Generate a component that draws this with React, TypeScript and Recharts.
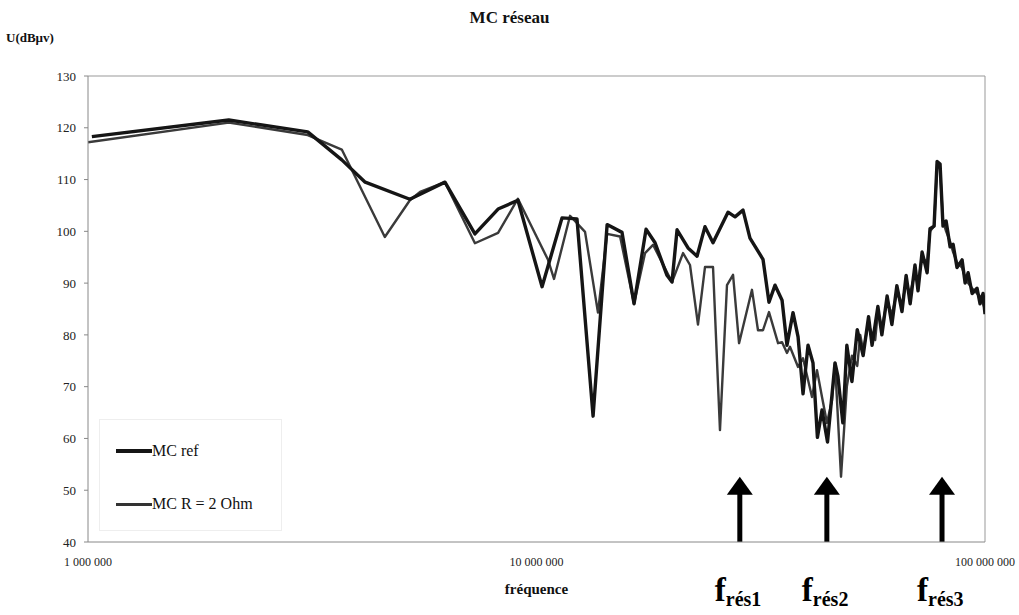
import React from 'react';
import { LineChart, Line, XAxis, YAxis, ReferenceLine, ReferenceDot, Legend } from 'recharts';

// Frequencies in MHz and levels in dBµV
const refFreqMHz = [1.02, 2.06, 3.09, 3.68, 4.15, 5.22, 6.25, 7.29, 8.21, 9.09, 10.29, 11.4, 12.31, 13.37, 14.37, 15.51, 16.5, 17.55, 18.38, 19.54, 20.05, 20.58, 21.77, 22.8, 23.75, 24.75, 26.73, 27.71, 28.87, 29.92, 31.99, 32.99, 34.03, 35.28, 36.18, 37.32, 38.3, 39.29, 40.31, 41.35, 42.3, 43.31, 44.55, 46.3, 47.0, 48.2, 49.2, 50.5, 51.9, 53.5, 55.0, 56.0, 57.7, 58.9, 60.5, 62.0, 63.6, 65.3, 66.7, 68.1, 69.8, 70.9, 72.4, 74.3, 75.4, 77.0, 78.2, 79.4, 80.6, 81.9, 83.6, 84.9, 86.6, 88.9, 90.3, 91.7, 93.6, 96.0, 97.5, 99.0, 100];
const refValues = [118.3, 121.5, 119.2, 113.8, 109.5, 106.2, 109.5, 99.5, 104.3, 106, 89.3, 102.6, 102.4, 64.3, 101.3, 99.8, 86, 100.4, 97.8, 91.5, 90.2, 100.3, 96.8, 95.2, 100.9, 97.8, 103.7, 102.8, 104.1, 98.7, 94.6, 86.3, 89.6, 86.7, 78, 84.3, 79.6, 68.6, 78, 74.6, 60.2, 65.5, 59.3, 74.6, 72, 63, 78, 71, 81, 76, 83.5, 78, 85.5, 80, 87.5, 82, 89.5, 84.5, 91.5, 86, 93.5, 88.5, 96, 92, 100.5, 101, 113.5, 113, 101, 102, 97, 97.5, 93, 94.5, 90, 92, 88, 89, 86, 88, 84];

const r2FreqMHz = [1.0, 2.06, 3.09, 3.68, 4.59, 5.22, 5.5, 6.25, 7.29, 8.21, 9.09, 10.61, 10.94, 11.88, 12.83, 13.71, 14.37, 15.36, 16.5, 17.46, 18.19, 20.05, 21.22, 21.99, 22.91, 23.75, 24.75, 25.65, 26.59, 27.43, 28.29, 30.23, 31.18, 31.99, 32.99, 34.56, 35.28, 36.18, 36.74, 38.3, 39.29, 41.14, 42.21, 43.31, 44.43, 45.59, 46.3, 47.75, 49.2, 50.5, 51.9, 52.7, 53.5, 54.9, 56.9, 57.7, 58.9, 60.5, 62.0, 63.6, 65.3, 66.7, 68.1, 69.8, 70.9, 72.4, 74.3, 75.4, 77.0, 78.2, 79.4, 80.6, 81.9, 83.6, 84.9, 86.6, 88.9, 90.3, 91.7, 93.6, 96.0, 97.5, 99.0, 100];
const r2Values = [117.2, 121, 118.6, 115.8, 98.9, 106, 107.6, 109.5, 97.7, 99.7, 106.3, 94.5, 90.8, 103, 99.9, 84.3, 99.5, 99, 86, 95.8, 97.4, 90.2, 95.8, 93.5, 82, 93.1, 93.1, 61.6, 89.6, 91.6, 78.4, 88.7, 80.9, 80.9, 84.4, 78.4, 78.6, 76.5, 77.7, 73.8, 75.5, 68, 73.2, 68, 63, 67.4, 74.6, 52.6, 70, 76, 74, 80, 77, 82, 79, 84.5, 81.5, 86.5, 84, 88, 86, 90, 88, 92, 90, 95, 94, 100, 101, 113, 112, 102, 100, 98, 96, 94, 93, 91, 90, 89, 88, 87.5, 86, 85];

const yTicks = [40, 50, 60, 70, 80, 90, 100, 110, 120, 130];
const xTicks = [1e6, 1e7, 1e8];
const resonanceMHz = [28.4, 44.4, 80.2];
const resonanceLabels = ['rés1', 'rés2', 'rés3'];
const arrowBase = 40;
const arrowShaftTop = 49.5;
const arrowTip = 52.6;

const seriesNames = ['MC ref', 'MC R = 2 Ohm'];

const refData = refFreqMHz.map((m, i) => ({ f: m * 1e6, v: refValues[i] }));
const r2Data = r2FreqMHz.map((m, i) => ({ f: m * 1e6, v: r2Values[i] }));

const FONT = '"Liberation Serif", "Times New Roman", serif';

const fmtFreq = (v: number) => Math.round(v).toString().replace(/\B(?=(\d{3})+(?!\d))/g, ' ');

const LegendBox = () => (
  <div style={{ width: 183, height: 112, border: '1px solid #eeeeee', boxSizing: 'border-box', fontFamily: FONT, fontSize: 16, color: '#111', position: 'relative' }}>
    <div style={{ position: 'absolute', left: 16, top: 22, display: 'flex', alignItems: 'center' }}>
      <div style={{ width: 36, height: 4, background: '#151515' }} />
      <span>{seriesNames[0]}</span>
    </div>
    <div style={{ position: 'absolute', left: 16, top: 75, display: 'flex', alignItems: 'center' }}>
      <div style={{ width: 36, height: 3, background: '#333' }} />
      <span>{seriesNames[1]}</span>
    </div>
  </div>
);

export default function App() {
  return (
    <div style={{ position: 'absolute', left: 0, top: 0, width: 1019, height: 615, background: '#fff', fontFamily: FONT }}>
      <div style={{ position: 'absolute', left: 0, top: 8, width: 1019, textAlign: 'center', fontWeight: 'bold', fontSize: 17, color: '#111' }}>MC réseau</div>
      <div style={{ position: 'absolute', left: 6, top: 30, fontWeight: 'bold', fontSize: 13, color: '#111' }}>U(dBµv)</div>
      <LineChart width={1019} height={615} margin={{ top: 76, right: 34, bottom: 43, left: 28 }}>
        <XAxis
          dataKey="f"
          type="number"
          scale="log"
          domain={[1e6, 1e8]}
          ticks={xTicks}
          allowDataOverflow
          tickFormatter={fmtFreq}
          stroke="#888"
          tickLine={false}
          tick={{ fill: '#222', fontSize: 12, fontFamily: FONT }}
          tickMargin={9}
          height={30}
          label={{ value: 'fréquence', position: 'insideBottom', offset: -22, style: { fontWeight: 'bold', fontSize: 15, fill: '#111', fontFamily: FONT } }}
        />
        <YAxis
          type="number"
          domain={[40, 130]}
          ticks={yTicks}
          width={60}
          stroke="#888"
          tickSize={4}
          tick={{ fill: '#222', fontSize: 13, fontFamily: FONT }}
          tickMargin={8}
          interval={0}
        />
        <ReferenceLine y={130} stroke="#999" />
        <ReferenceLine x={1e8} stroke="#999" />
        <Line data={r2Data} dataKey="v" name={seriesNames[1]} stroke="#3a3a3a" strokeWidth={2.4} dot={false} isAnimationActive={false} strokeLinejoin="round" />
        <Line data={refData} dataKey="v" name={seriesNames[0]} stroke="#151515" strokeWidth={3.4} dot={false} isAnimationActive={false} strokeLinejoin="round" />
        {resonanceMHz.map((m, i) => (
          <ReferenceLine key={'s' + i} segment={[{ x: m * 1e6, y: arrowBase }, { x: m * 1e6, y: arrowShaftTop }]} stroke="#000" strokeWidth={5} ifOverflow="visible" />
        ))}
        {resonanceMHz.map((m, i) => (
          <ReferenceDot
            key={'h' + i}
            x={m * 1e6}
            y={arrowTip}
            ifOverflow="visible"
            shape={(p: any) => (
              <polygon points={`${p.cx},${p.cy} ${p.cx - 13},${p.cy + 18} ${p.cx + 13},${p.cy + 18}`} fill="#000" />
            )}
          />
        ))}
        {resonanceMHz.map((m, i) => (
          <ReferenceDot
            key={'t' + i}
            x={m * 1e6}
            y={arrowBase}
            ifOverflow="visible"
            shape={(p: any) => (
              <text x={p.cx - 25} y={p.cy + 59} fontFamily={FONT} fontWeight="bold" fill="#000">
                <tspan fontSize={33}>f</tspan>
                <tspan fontSize={20} dy={5}>{resonanceLabels[i]}</tspan>
              </text>
            )}
          />
        ))}
        <Legend
          layout="horizontal"
          verticalAlign="middle"
          align="center"
          wrapperStyle={{ left: 99, top: 419, width: 183, height: 112 }}
          content={() => <LegendBox />}
        />
      </LineChart>
    </div>
  );
}
